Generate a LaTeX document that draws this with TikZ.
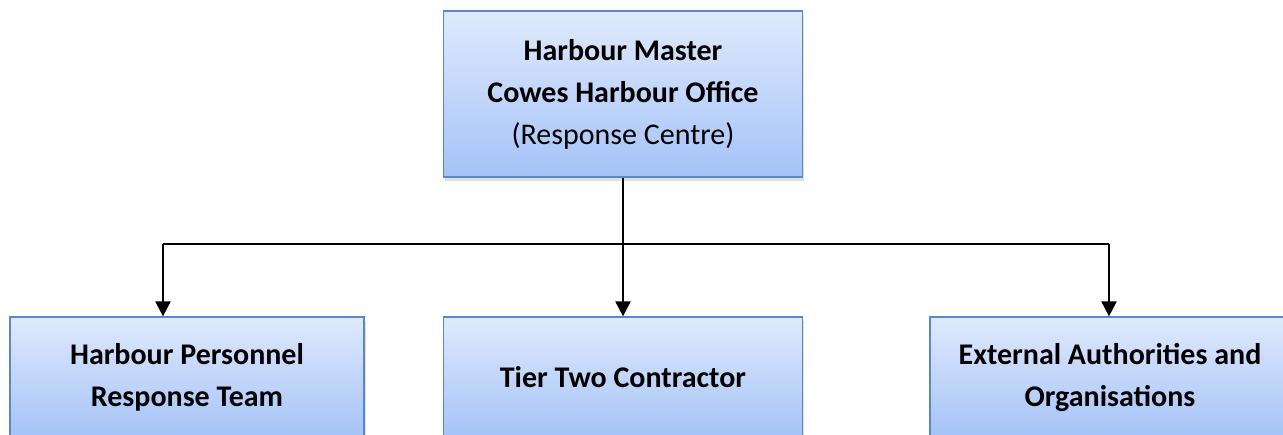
\documentclass[tikz,border=0pt]{standalone}
\usepackage{fontspec}
\setmainfont{Carlito}
\usetikzlibrary{arrows.meta,shadows}
\definecolor{boxtop}{HTML}{DFE9FC}
\definecolor{boxbottom}{HTML}{A5C3F8}
\definecolor{boxline}{HTML}{5A88C6}
\tikzset{
  unitbox/.style={draw=boxline,line width=1.2pt,top color=boxtop,bottom color=boxbottom,
    align=center,font=\fontsize{30}{42}\selectfont,inner sep=0pt,
    drop shadow={shadow xshift=1.5pt,shadow yshift=-4pt,opacity=0.25}},
  link/.style={line width=2pt},
  tolink/.style={link,-{Triangle[width=15pt,length=15pt]}}
}
\begin{document}
\begin{tikzpicture}[x=1pt,y=-1pt]
	\useasboundingbox (0,0) rectangle (1283,435);
	\clip (0,0) rectangle (1283,435);
		% top of the chain
		\node [unitbox,minimum width=359pt,minimum height=166pt] (master) at (623,94)
			{\textbf{Harbour Master}\\\textbf{Cowes Harbour Office}\\(Response Centre)};
		% the three response units
		\node [unitbox,minimum width=354pt,minimum height=120pt] (personnel) at (187,377)
			{\textbf{Harbour Personnel}\\\textbf{Response Team}};
		\node [unitbox,minimum width=359pt,minimum height=120pt] (contractor) at (623,377)
			{\textbf{Tier Two Contractor}};
		\node [unitbox,minimum width=360pt,minimum height=120pt] (external) at (1110,377)
			{\textbf{External Authorities and}\\\textbf{Organisations}};
		% branch line
		\coordinate (bl) at (163,244);
		\coordinate (br) at (1109,244);
		\draw [link] (bl) -- (br);
		\draw [tolink] (master.south) -- (contractor.north);
		\draw [tolink] (bl) -- (bl |- personnel.north);
		\draw [tolink] (br) -- (br |- external.north);
	\end{tikzpicture}
\end{document}
